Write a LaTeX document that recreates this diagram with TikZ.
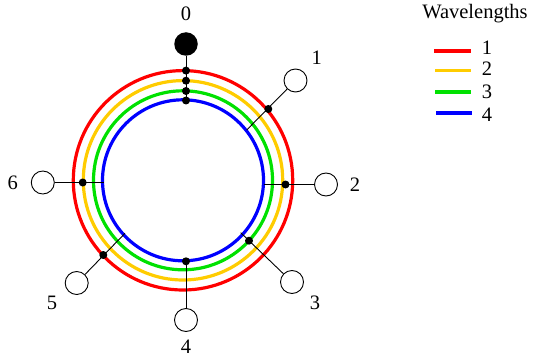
\documentclass[tikz,border=0pt]{standalone}
\usepackage{fontspec}
\setmainfont{Liberation Serif}
\definecolor{wred}{RGB}{255,0,0}
\definecolor{wyellow}{RGB}{255,204,0}
\definecolor{wgreen}{RGB}{0,225,0}
\definecolor{wblue}{RGB}{0,0,255}
\tikzset{
  ring/.style={line width=3.2pt},
  station/.style={circle,draw=black,line width=0.9pt,fill=white,minimum size=23pt,inner sep=0pt},
  hub/.style={circle,fill=black,minimum size=23.5pt,inner sep=0pt},
  dot/.style={circle,fill=black,minimum size=8pt,inner sep=0pt},
  link/.style={line width=0.9pt},
  lbl/.style={font=\fontsize{20.5}{20.5}\selectfont,inner sep=0pt},
  leg/.style={line width=3.2pt}
}
\begin{document}
\begin{tikzpicture}[x=1pt,y=-1pt]
\useasboundingbox (0,0) rectangle (534,358);
\coordinate (c) at (183,180.3);
\draw[ring,wred] (c) circle[radius=109.7];
\draw[ring,wyellow] (c) circle[radius=99.7];
\draw[ring,wgreen] (c) circle[radius=89.5];
\draw[ring,wblue] (c) circle[radius=80.5];
% stations
\node[hub] (n0) at (186,44) {};
\node[station] (n1) at (295.5,80.5) {};
\node[station] (n2) at (326,184.5) {};
\node[station] (n3) at (292,282) {};
\node[station] (n4) at (186,320) {};
\node[station] (n5) at (76.7,283) {};
\node[station] (n6) at (42.8,182.5) {};
% inner ends
\coordinate (e0) at (186,100.5);
\coordinate (e1) at (246.7,130);
\coordinate (e2) at (264,184.5);
\coordinate (e3) at (240.7,232.7);
\coordinate (e4) at (186,261.3);
\coordinate (e5) at (125,233.3);
\coordinate (e6) at (104,182.5);
% connectors
\draw[link] (n0) -- (e0);
\draw[link] (n1) -- (e1);
\draw[link] (n2) -- (e2);
\draw[link] (n3) -- (e3);
\draw[link] (n4) -- (e4);
\draw[link] (n5) -- (e5);
\draw[link] (n6) -- (e6);
% dots
\node[dot] (d0a) at (186,70.6) {};
\node[dot] (d0b) at (186,80.7) {};
\node[dot] (d0c) at (186,91) {};
\node[dot] (d0d) at (186,100.5) {};
\node[dot] (d1) at (268.3,109) {};
\node[dot] (d2) at (285.5,184.5) {};
\node[dot] (d3) at (249,240.7) {};
\node[dot] (d4) at (186,261.3) {};
\node[dot] (d5) at (103.3,255) {};
\node[dot] (d6) at (82.7,182.5) {};
% labels
\node[lbl] (l0) at (186,14) {0};
\node[lbl] (l1) at (316.7,58) {1};
\node[lbl] (l2) at (355,185) {2};
\node[lbl] (l3) at (315,303) {3};
\node[lbl] (l4) at (186,347) {4};
\node[lbl] (l5) at (52,303) {5};
\node[lbl] (l6) at (12.7,183) {6};
% legend
\node[lbl] (lt) at (475,14) {Wavelengths};
\coordinate (a1) at (434,51); \coordinate (b1) at (471,51);
\coordinate (a2) at (435,70.7); \coordinate (b2) at (471,70.7);
\coordinate (a3) at (435,92); \coordinate (b3) at (471,92);
\coordinate (a4) at (436,113); \coordinate (b4) at (472,113);
\draw[leg,wred] (a1) -- (b1);
\draw[leg,wyellow] (a2) -- (b2);
\draw[leg,wgreen] (a3) -- (b3);
\draw[leg,wblue] (a4) -- (b4);
\node[lbl] (k1) at (487,47.5) {1};
\node[lbl] (k2) at (487,69) {2};
\node[lbl] (k3) at (487,92) {3};
\node[lbl] (k4) at (487,115) {4};
\end{tikzpicture}
\end{document}
